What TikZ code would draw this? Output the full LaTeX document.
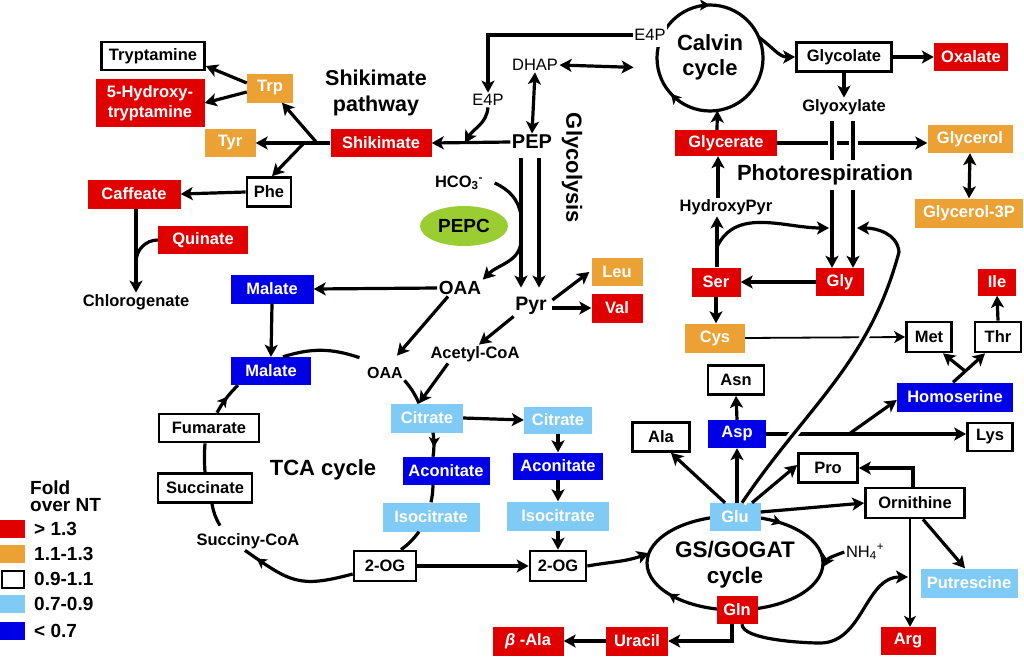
\documentclass[tikz,border=0pt]{standalone}
\usepackage{fontspec}
\setmainfont{Liberation Sans}
\usetikzlibrary{arrows.meta,shapes.geometric,decorations.markings}
\definecolor{foldhi}{HTML}{E00000}
\definecolor{foldup}{HTML}{EBA134}
\definecolor{foldlo}{HTML}{7FCBF5}
\definecolor{foldvlo}{HTML}{0000E6}
\definecolor{pepcgreen}{HTML}{9ACD32}
\tikzset{
  met/.style={font=\fontsize{16.5}{19.5}\selectfont\bfseries, inner sep=0pt, align=center, text=white, minimum height=28pt},
  wd/.style={minimum width=#1pt},
  ht/.style={minimum height=#1pt},
  hi/.style={met, fill=foldhi},
  up/.style={met, fill=foldup},
  nc/.style={met, fill=white, draw=black, line width=2.7pt, text=black},
  lo/.style={met, fill=foldlo},
  vlo/.style={met, fill=foldvlo},
  txt/.style={font=\fontsize{16.5}{19}\selectfont\bfseries, inner sep=1.5pt},
  txtr/.style={font=\fontsize{16.5}{19}\selectfont, inner sep=1.5pt},
  big/.style={font=\fontsize{22}{26}\selectfont\bfseries, align=center, inner sep=1pt},
  swatch/.style={minimum width=25pt, minimum height=18pt, inner sep=0pt, anchor=west},
  keytxt/.style={font=\fontsize{19}{20}\selectfont\bfseries, anchor=west, inner sep=1pt},
  ln/.style={line width=3.2pt},
  arr/.style={ln, -{Stealth[length=12pt, width=13pt, inset=3pt]}},
  dbl/.style={ln, {Stealth[length=12pt, width=13pt, inset=3pt]}-{Stealth[length=12pt, width=13pt, inset=3pt]}},
  fine/.style={line width=1.8pt},
  farr/.style={fine, -{Stealth[length=11pt, width=12pt, inset=3pt]}},
  gap/.style={preaction={draw=white, line width=9pt, arrows=-}},
  marr/.style={postaction={decorate, decoration={markings, mark=at position #1 with {\arrow{Stealth[length=10pt, width=11pt, inset=2.5pt]}}}}},
  rarr/.style={postaction={decorate, decoration={markings, mark=at position #1 with {\arrowreversed{Stealth[length=10pt, width=11pt, inset=2.5pt]}}}}}
}
\begin{document}
\begin{tikzpicture}[x=1pt, y=1pt]
\path[use as bounding box, fill=white] (0,0) rectangle (1024,-656);

% cycles drawn first, boxes go on top
\coordinate (calvc) at (710,-58);
\draw[ln, rarr=0.25, rarr=0.618] (calvc) circle[radius=53pt];
\coordinate (gsc) at (735,-563);
\draw[ln, rarr=0.14, rarr=0.59] (gsc) ellipse[x radius=88pt, y radius=47pt];

% shikimate pathway
\node[nc, wd=103, ht=28] (tryp) at (153,-56) {Tryptamine};
\node[hi, wd=109, ht=48] (hyd) at (150,-103) {5-Hydroxy-\\tryptamine};
\node[up, wd=46, ht=29] (trp) at (270,-88) {Trp};
\node[up, wd=51] (tyr) at (230,-143) {Tyr};
\node[hi, wd=101] (shik) at (381,-143) {Shikimate};
\node[nc, wd=44, ht=29] (phe) at (269,-192) {Phe};
\node[hi, wd=93, ht=29] (caff) at (134,-194) {Caffeate};
\node[hi, wd=90] (quin) at (203,-240) {Quinate};
\node[txt] (chlor) at (136,-302) {Chlorogenate};
\node[big, font=\fontsize{21.5}{26}\selectfont\bfseries] (shiklab) at (376,-93) {Shikimate\\pathway};

% glycolysis
\node[txtr, fill=white, inner ysep=6pt] (e4pa) at (650,-35) {E4P};
\node[txtr] (dhap) at (535,-65) {DHAP};
\node[txtr] (e4pb) at (488,-100) {E4P};
\node[txt, font=\fontsize{20}{22}\selectfont\bfseries] (pep) at (532,-142) {PEP};
\node[big, rotate=-90] (glyclab) at (572,-168) {Glycolysis};
\node[txt] (hco) at (459,-183) {HCO\textsubscript{3}\textsuperscript{-}};
\node[ellipse, fill=pepcgreen, minimum width=88pt, minimum height=40pt, inner sep=0pt, font=\fontsize{19}{20}\selectfont\bfseries] (pepc) at (464,-226) {PEPC};
\node[txt, font=\fontsize{19}{20}\selectfont\bfseries] (oaa1) at (460,-288) {OAA};
\node[txt, font=\fontsize{19.5}{20}\selectfont\bfseries] (pyr) at (531,-306) {Pyr};
\node[up, wd=51] (leu) at (617,-272) {Leu};
\node[hi, wd=51, ht=29] (val) at (617,-308) {Val};

% TCA cycle
\node[vlo, wd=83, ht=29] (mal1) at (272,-289) {Malate};
\node[vlo, wd=80] (mal2) at (271,-371) {Malate};
\node[txt, font=\fontsize{16}{18}\selectfont\bfseries] (oaa2) at (385,-373) {OAA};
\node[txt] (acoa) at (475,-354) {Acetyl-CoA};
\node[lo, wd=72, ht=29] (cit1) at (427,-418) {Citrate};
\node[lo, wd=68, ht=27] (cit2) at (558,-420) {Citrate};
\node[vlo, wd=87] (aco1) at (446,-471) {Aconitate};
\node[vlo, wd=90, ht=27] (aco2) at (558,-466) {Aconitate};
\node[lo, wd=97, ht=29] (iso1) at (431,-517) {Isocitrate};
\node[lo, wd=102, ht=29] (iso2) at (558,-516) {Isocitrate};
\node[nc, wd=62, ht=30] (og1) at (385,-566) {2-OG};
\node[nc, wd=56, ht=30] (og2) at (558,-566) {2-OG};
\node[nc, wd=100, ht=28] (fum) at (209,-428) {Fumarate};
\node[nc, wd=94, ht=29] (succ) at (205,-488) {Succinate};
\node[txt] (scoa) at (248,-541) {Succiny-CoA};
\node[big] (tcalab) at (323,-470) {TCA cycle};

% Calvin cycle and photorespiration
\node[big, font=\fontsize{22}{25}\selectfont\bfseries] (calvlab) at (710,-57) {Calvin\\cycle};
\node[nc, wd=95, ht=29] (glyco) at (844,-57) {Glycolate};
\node[hi, wd=74] (oxal) at (971,-57) {Oxalate};
\node[txt] (glyox) at (844,-107) {Glyoxylate};
\node[hi, wd=102, ht=26] (glyc) at (726,-143) {Glycerate};
\node[up, wd=85] (glol) at (970,-139) {Glycerol};
\node[up, wd=108, ht=29] (g3p) at (969,-213) {Glycerol-3P};
\node[txt] (hpyr) at (726,-207) {HydroxyPyr};
\node[hi, wd=49, ht=29] (ser) at (716,-282) {Ser};
\node[hi, wd=48] (gly) at (840,-282) {Gly};
\node[up, wd=60, ht=29] (cys) at (715,-338) {Cys};
\node[nc, wd=45, ht=30] (met) at (929,-337) {Met};
\node[nc, wd=46, ht=30] (thr) at (998,-337) {Thr};
\node[hi, wd=38, ht=27] (ile) at (997,-282) {Ile};

% amino acids round Glu
\node[vlo, wd=116, ht=29] (hser) at (955,-397) {Homoserine};
\node[nc, wd=56, ht=29] (asn) at (736,-380) {Asn};
\node[vlo, wd=58] (asp) at (737,-434) {Asp};
\node[nc, wd=57, ht=29] (ala) at (661,-437) {Ala};
\node[nc, wd=45, ht=28] (lys) at (990,-437) {Lys};
\node[nc, wd=59, ht=29] (pro) at (828,-468) {Pro};
\node[lo, wd=51] (glu) at (735,-517) {Glu};
\node[nc, wd=99, ht=30] (orn) at (915,-503) {Ornithine};
\node[lo, wd=97, ht=29] (put) at (969,-583) {Putrescine};
\node[hi, wd=41] (gln) at (737,-610) {Gln};
\node[hi, wd=55, ht=28] (arg) at (908,-641) {Arg};
\node[hi, wd=62, ht=29] (ura) at (637,-641) {Uracil};
\node[hi, wd=71, ht=29] (bala) at (528,-641) {\textit{β} -Ala};
\node[txtr] (nh) at (865,-552) {NH\textsubscript{4}\textsuperscript{+}};
\node[big, font=\fontsize{22.5}{26}\selectfont\bfseries] (gslab) at (735,-565) {GS/GOGAT\\cycle};

% legend
\node[big, font=\fontsize{19}{17}\selectfont\bfseries, align=left, anchor=west] (foldlab) at (29,-496) {Fold\\over NT};
\node[swatch, fill=foldhi] (k1) at (0,-529) {};
\node[swatch, fill=foldup] (k2) at (0,-554) {};
\node[swatch, minimum width=22pt, minimum height=17pt, draw=black, line width=2pt, fill=white] (k3) at (1,-579) {};
\node[swatch, fill=foldlo] (k4) at (0,-604) {};
\node[swatch, fill=foldvlo] (k5) at (0,-631) {};
\node[keytxt] (t1) at (33,-529) {> 1.3};
\node[keytxt] (t2) at (33,-554) {1.1-1.3};
\node[keytxt] (t3) at (33,-579) {0.9-1.1};
\node[keytxt] (t4) at (33,-604) {0.7-0.9};
\node[keytxt] (t5) at (33,-631) {< 0.7};

% shikimate arrows
\coordinate (sj1) at (317,-143);
\coordinate (sj2) at (304,-143);
\coordinate (qj) at (136,-262);
\draw[arr] (shik.west) -- (tyr.east);
\draw[arr] (sj1) -- ([xshift=12]trp.south);
\draw[arr] (sj2) -- ([xshift=3]phe.north);
\draw[arr] ([yshift=5]trp.west) -- ([yshift=-10]tryp.east);
\draw[arr] ([yshift=-4]trp.west) -- (hyd.east);
\draw[arr] (phe.west) -- (caff.east);
\draw[arr] ([xshift=2]caff.south) -- (chlor.north);
\draw[ln] (quin.west) to[out=180, in=90] (qj);

% glycolysis arrows
\coordinate (ej) at (465,-143);
\coordinate (pj1) at (521,-215);
\coordinate (pj2) at (521,-240);
\draw[arr] (e4pa.west) -| (e4pb.north);
\draw[dbl] (dhap.east) -- ([shift={(187:77)}]calvc);
\draw[dbl] (dhap.south) -- (pep.north);
\draw[arr] (pep.west) -- (shik.east);
\draw[arr] (e4pb.south) to[out=-95, in=60] (ej);
\draw[arr] ([shift={(-11,-7)}]pep.south) -- ([shift={(-10,8)}]pyr.north);
\draw[arr] ([shift={(7,-7)}]pep.south) -- ([shift={(8,8)}]pyr.north);
\draw[ln] ([xshift=10]hco.east) to[out=-25, in=100] (pj1);
\draw[arr] (pj2) to[out=-90, in=45] (oaa1.north east);
\draw[arr] ([shift={(4,6)}]pyr.east) -- ([xshift=-2]leu.west);
\draw[arr] ([shift={(4,-2)}]pyr.east) -- (val.west);
\draw[arr] (pyr.south west) -- ([xshift=4]acoa.north);
\draw[arr] ([xshift=-27]acoa.south) -- ([xshift=-8]cit1.north);
\draw[arr] (oaa1.west) -- (mal1.east);
\draw[arr] (mal1.south) -- (mal2.north);
\draw[arr] ([xshift=-12]oaa1.south) -- ([shift={(12,10)}]oaa2.north);

% TCA cycle
\draw[ln] (oaa2.south east) to[bend left=8] ([xshift=-8]cit1.north);
\draw[ln, marr=0.6] ([xshift=6]cit1.south) to[bend left=8] ([xshift=-13]aco1.north);
\draw[ln] ([xshift=-13]aco1.south) to[bend left=5] (iso1.north);
\draw[ln] ([xshift=-12]iso1.south) to[bend left=8] ([xshift=16]og1.north);
\draw[ln, marr=0.88] ([yshift=-8]og1.west) to[out=195, in=-35, looseness=1.3] ([xshift=-3]scoa.south);
\draw[ln] ([shift={(-28,6)}]scoa.north) to[bend left=10] ([xshift=7]succ.south);
\draw[ln] (succ.north) to[bend left=4] ([xshift=-4]fum.south);
\draw[ln, marr=0.55] ([xshift=8]fum.north) to[bend left=8] ([xshift=-33]mal2.south);
\draw[ln] ([xshift=12]mal2.north) to[bend left=18] ([shift={(-6,8)}]oaa2.north west);
\draw[arr] (cit1.east) -- (cit2.west);
\draw[arr] (cit2.south) -- (aco2.north);
\draw[arr] (aco2.south) -- (iso2.north);
\draw[arr] (iso2.south) -- (og2.north);
\draw[arr] (og1.east) -- (og2.west);
\draw[arr] (og2.east) to[out=10, in=200] ([shift={(168:88 and 47)}]gsc);

% Calvin cycle and photorespiration
\coordinate (glyl) at (829,-228);
\coordinate (glyr) at (857,-228);
\coordinate (sc) at (717,-247);
\draw[arr] ([shift={(23:53)}]calvc) to[out=-35, in=180] (glyco.west);
\draw[arr] (glyco.east) -- (oxal.west);
\draw[arr] (glyco.south) -- (glyox.north);
\draw[arr] (glyc.east) -- (glol.west |- glyc.east);
\draw[dbl] (glol.south) -- (g3p.north);
\draw[arr, gap] ([shift={(-12,-5)}]glyox.south) -- ([xshift=-8]gly.north);
\draw[arr, gap] ([shift={(9,-5)}]glyox.south) -- ([xshift=13]gly.north);
\node[big, fill=white, inner ysep=5pt] (photo) at (825,-175) {Photorespiration};
\draw[arr] ([xshift=-9]glyc.north) -- ([shift={(-82:53)}]calvc);
\draw[arr] ([xshift=-8]hpyr.north) -- ([xshift=-8]glyc.south);
\draw[arr] ([xshift=1]ser.north) -- ([xshift=-9]hpyr.south);
\draw[arr] (sc) to[out=65, in=180] (glyl);
\draw[arr] (gly.west) -- (ser.east);
\draw[arr] (ser.south) -- ([xshift=1]cys.north);
\draw[farr] (cys.east) -- (met.west);
\draw[arr] (thr.north) -- (ile.south);

% amino acids from Asp and Glu
\coordinate (hj) at (965,-371);
\coordinate (aj) at (849,-434);
\coordinate (gtop) at (899,-252);
\coordinate (argj) at (908,-577);
\coordinate (gbot) at (820,-643);
\draw[arr] ([xshift=-2]hser.north) -- ([xshift=-13]thr.south);
\draw[arr] (hj) -- ([xshift=14]met.south);
\draw[arr] (asp.north) -- (asn.south);
\draw[arr] (asp.east) -- (lys.west |- asp.east);
\draw[arr] (aj) -- ([yshift=-3]hser.west);
\draw[arr, gap] ([xshift=7]glu.north) to[out=56, in=-105] (gtop) to[out=95, in=0] (glyr);
\draw[arr] ([xshift=-10]glu.north) -- ([xshift=10]ala.south);
\draw[arr] ([xshift=2]glu.north) -- (asp.south);
\draw[arr] ([xshift=17]glu.north) -- ([yshift=3]pro.west);
\draw[arr] ([yshift=5]glu.east) -- (orn.west);
\draw[arr] ([xshift=-2]orn.north) |- (pro.east);
\draw[arr] ([xshift=8]orn.south) -- ([xshift=-4]put.north);
\draw[farr] ([xshift=-5]orn.south) -- ([xshift=2]arg.north);
\draw[arr] ([xshift=5]gln.south) to[out=-90, in=180, looseness=0.5] (gbot) to[out=0, in=180] (argj);
\draw[arr] ([xshift=-5]gln.south) |- (ura.east);
\draw[arr] (ura.west) -- (bala.east);
\draw[arr] (nh.west) to[out=200, in=60] ([shift={(-5:88 and 47)}]gsc);
\end{tikzpicture}
\end{document}
